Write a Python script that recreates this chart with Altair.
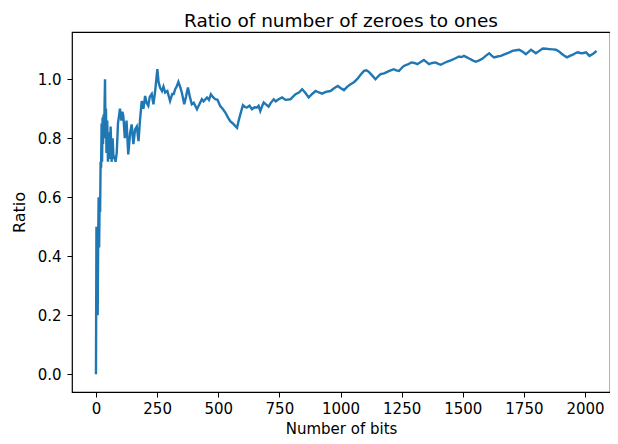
import altair as alt
import pandas as pd

bits = [0, 2, 3, 5, 7, 9, 11, 13, 15, 17, 19, 21, 23, 25, 27, 29, 31, 33, 35, 37,
        39, 41, 43, 46, 49, 52, 56, 60, 64, 68, 72, 76, 80, 85, 90, 95, 98, 104, 108, 112,
        118, 125, 132, 140, 146, 153, 160, 167, 174, 180, 187, 194, 201, 207, 214, 220, 228, 235, 242, 251,
        256, 262, 270, 276, 283, 292, 303, 312, 318, 324, 330, 337, 344, 351, 361, 368, 376, 384, 392, 400,
        413, 420, 433, 440, 454, 462, 470, 478, 488, 497, 508, 518, 529, 540, 549, 560, 570, 577, 583, 590,
        601, 610, 617, 628, 638, 648, 658, 665, 672, 680, 686, 695, 706, 715, 727, 735, 747, 761, 775, 795,
        805, 816, 830, 843, 855, 870, 884, 898, 912, 925, 940, 959, 975, 989, 1000, 1014, 1028, 1041, 1055, 1068,
        1082, 1096, 1106, 1116, 1130, 1143, 1154, 1164, 1178, 1191, 1205, 1218, 1228, 1239, 1250, 1259, 1275, 1290, 1302, 1314,
        1328, 1341, 1352, 1362, 1375, 1389, 1400, 1410, 1424, 1437, 1448, 1458, 1472, 1485, 1495, 1505, 1515, 1526, 1540, 1553,
        1567, 1581, 1595, 1608, 1618, 1628, 1642, 1656, 1670, 1683, 1693, 1703, 1717, 1731, 1745, 1758, 1768, 1779, 1789, 1799,
        1813, 1827, 1841, 1854, 1868, 1881, 1892, 1902, 1914, 1926, 1938, 1950, 1960, 1970, 1980, 1990, 2004, 2018, 2028, 2036,
        2047]

ratio = [0.0, 0.5, 0.2, 0.5, 0.2, 0.45, 0.6, 0.43, 0.6, 0.55, 0.72, 0.7, 0.85, 0.72, 0.87, 0.78, 0.88, 0.8, 0.9, 1.0,
         0.82, 0.9, 0.75, 0.86, 0.72, 0.82, 0.73, 0.84, 0.72, 0.8, 0.73, 0.74, 0.72, 0.75, 0.85, 0.88, 0.9, 0.86, 0.89, 0.875,
         0.8, 0.86, 0.745, 0.82, 0.847, 0.78, 0.83, 0.84, 0.79, 0.86, 0.926, 0.9, 0.943, 0.92, 0.91, 0.94, 0.95, 0.915, 0.96, 1.034,
         0.99, 0.972, 0.96, 0.975, 0.955, 0.96, 0.926, 0.95, 0.95, 0.966, 0.975, 0.991, 0.975, 0.955, 0.915, 0.94, 0.972, 0.94, 0.915, 0.92,
         0.898, 0.91, 0.932, 0.925, 0.938, 0.93, 0.949, 0.94, 0.932, 0.93, 0.909, 0.9, 0.887, 0.87, 0.858, 0.85, 0.841, 0.835, 0.858, 0.88,
         0.912, 0.905, 0.904, 0.91, 0.898, 0.905, 0.904, 0.91, 0.892, 0.91, 0.921, 0.915, 0.907, 0.92, 0.932, 0.925, 0.932, 0.938, 0.93, 0.932,
         0.94, 0.949, 0.955, 0.966, 0.955, 0.938, 0.95, 0.96, 0.955, 0.951, 0.957, 0.96, 0.97, 0.977, 0.97, 0.963, 0.975, 0.983, 0.99, 1.0,
         1.015, 1.028, 1.03, 1.025, 1.012, 1.0, 1.01, 1.017, 1.02, 1.025, 1.03, 1.034, 1.03, 1.028, 1.038, 1.045, 1.05, 1.057, 1.055, 1.051,
         1.058, 1.065, 1.058, 1.051, 1.055, 1.057, 1.052, 1.049, 1.055, 1.06, 1.063, 1.066, 1.072, 1.077, 1.075, 1.079, 1.075, 1.07, 1.064, 1.059,
         1.064, 1.07, 1.08, 1.088, 1.08, 1.074, 1.077, 1.079, 1.084, 1.088, 1.092, 1.096, 1.098, 1.1, 1.093, 1.085, 1.092, 1.1, 1.094, 1.088,
         1.096, 1.104, 1.103, 1.102, 1.101, 1.1, 1.095, 1.088, 1.08, 1.074, 1.079, 1.083, 1.088, 1.091, 1.089, 1.088, 1.091, 1.079, 1.084, 1.088,
         1.096]

x_ticks = [0, 250, 500, 750, 1000, 1250, 1500, 1750, 2000]
y_ticks = [0.0, 0.2, 0.4, 0.6, 0.8, 1.0]

df = pd.DataFrame({"bits": bits, "ratio": ratio})

font = "DejaVu Sans"

chart = alt.Chart(df).mark_line(color="#1f77b4", strokeWidth=2.4, clip=True).encode(
    x=alt.X("bits:Q",
            scale=alt.Scale(domain=[-98, 2102], nice=False, zero=False),
            axis=alt.Axis(values=x_ticks, format="d", title="Number of bits",
                          labelPadding=4, titlePadding=5, titleFontSize=15)),
    y=alt.Y("ratio:Q",
            scale=alt.Scale(domain=[-0.06, 1.16], nice=False, zero=False),
            axis=alt.Axis(values=y_ticks, format=".1f", title="Ratio",
                          labelPadding=6, titlePadding=10)),
).properties(
    width=538,
    height=360,
    title=alt.TitleParams("Ratio of number of zeroes to ones", font=font, fontSize=18.5,
                          fontWeight="normal", color="black", anchor="middle", offset=2),
    autosize=alt.AutoSizeParams(type="none"),
    padding={"left": 64, "top": 24, "right": 0, "bottom": 44},
).configure_view(
    stroke="black", strokeWidth=1.2
).configure_axis(
    domain=False, grid=False, tickColor="black", tickSize=5, tickWidth=1,
    labelFont=font, labelFontSize=15, labelColor="black",
    titleFont=font, titleFontSize=16, titleFontWeight="normal", titleColor="black",
)

chart.save("out.html", embed_options={"renderer": "svg", "actions": False})
